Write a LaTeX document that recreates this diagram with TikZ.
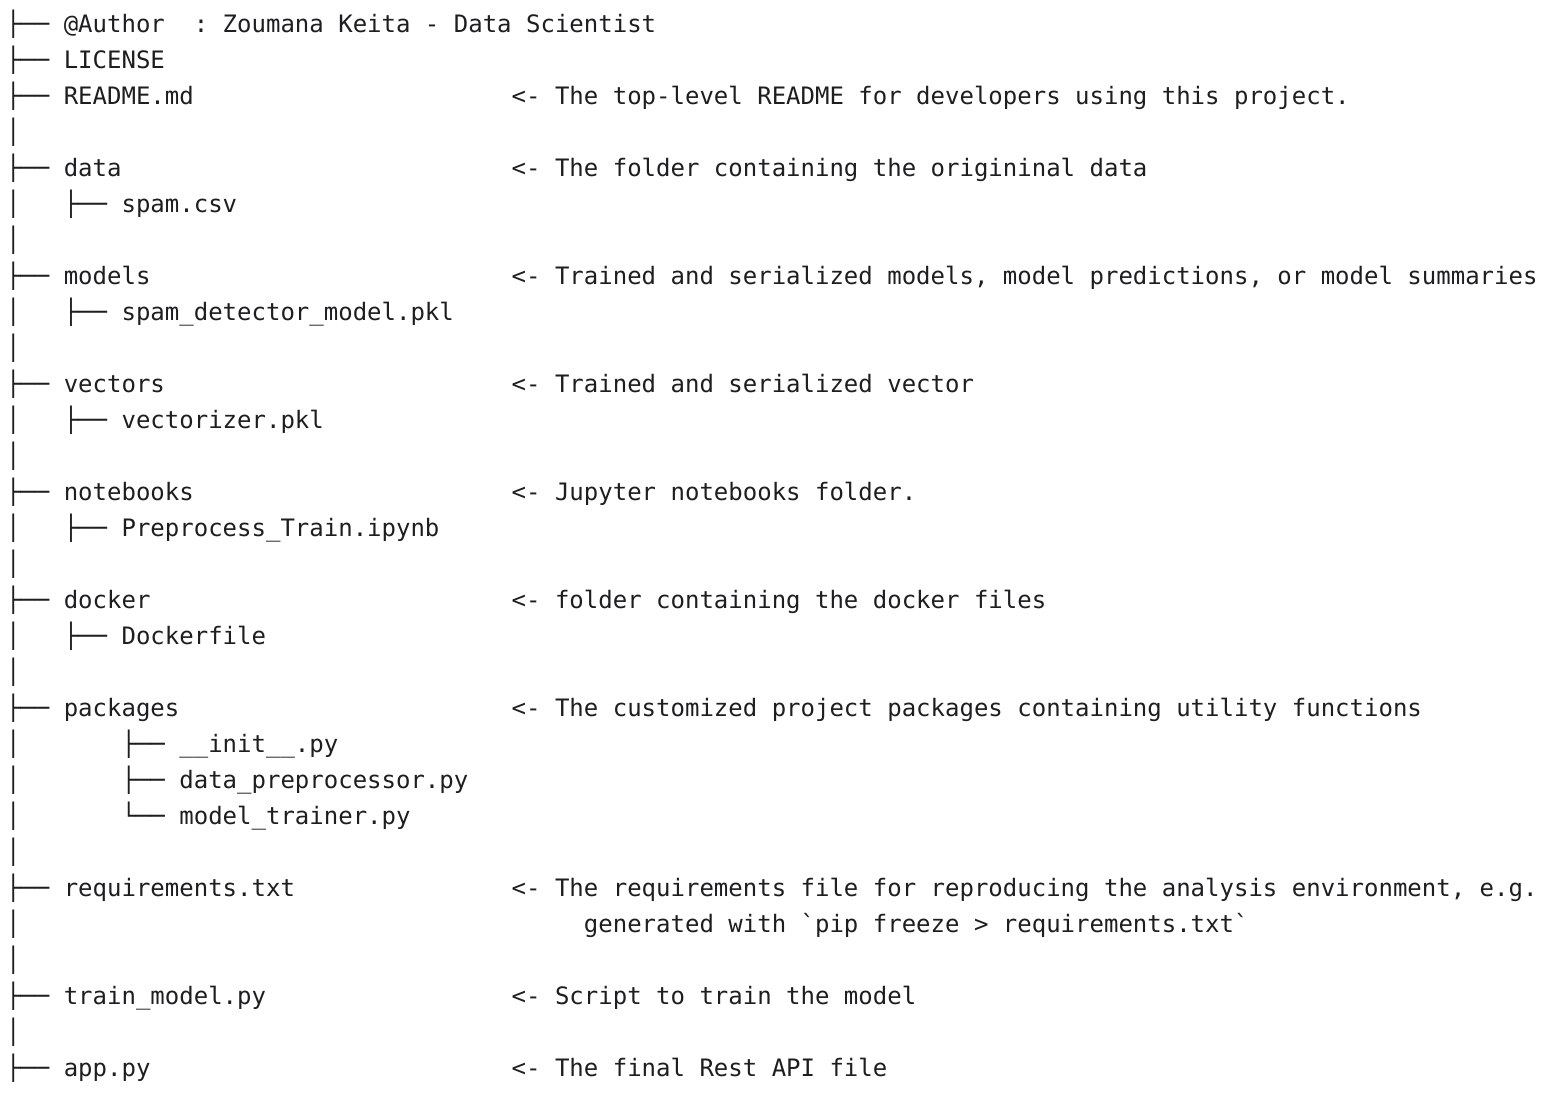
\documentclass[tikz,border=0pt]{standalone}
\usepackage{fontspec}
\newfontfamily\codefont{DejaVu Sans Mono}
\definecolor{ink}{RGB}{30,30,32}
\begin{document}
\begin{tikzpicture}[x=7.224pt,y=-18pt,
  txt/.style={anchor=base west,inner sep=0pt,outer sep=0pt,
    font=\codefont\fontsize{12pt}{18pt}\selectfont,text=ink}]
\useasboundingbox (0pt,0pt) rectangle (781pt,-552pt);
\begin{scope}[shift={(3pt,-16pt)}]
% row 0
\node[txt] (b0) at (0,0) {├──};
\node[txt] (n0) at (4,0) {@Author~~:~Zoumana Keita - Data Scientist};
% row 1
\node[txt] (b1) at (0,1) {├──};
\node[txt] (n1) at (4,1) {LICENSE};
% row 2
\node[txt] (b2) at (0,2) {├──};
\node[txt] (n2) at (4,2) {README.md};
\node[txt] (c2) at (35,2) {<- The top-level README for developers using this project.};
% row 3
\node[txt] (v3) at (0,3) {│};
% row 4
\node[txt] (b4) at (0,4) {├──};
\node[txt] (n4) at (4,4) {data};
\node[txt] (c4) at (35,4) {<- The folder containing the origininal data};
% row 5
\node[txt] (v5) at (0,5) {│};
\node[txt] (s5) at (4,5) {├──};
\node[txt] (n5) at (8,5) {spam.csv};
% row 6
\node[txt] (v6) at (0,6) {│};
% row 7
\node[txt] (b7) at (0,7) {├──};
\node[txt] (n7) at (4,7) {models};
\node[txt] (c7) at (35,7) {<- Trained and serialized models, model predictions, or model summaries};
% row 8
\node[txt] (v8) at (0,8) {│};
\node[txt] (s8) at (4,8) {├──};
\node[txt] (n8) at (8,8) {spam\_detector\_model.pkl};
% row 9
\node[txt] (v9) at (0,9) {│};
% row 10
\node[txt] (b10) at (0,10) {├──};
\node[txt] (n10) at (4,10) {vectors};
\node[txt] (c10) at (35,10) {<- Trained and serialized vector};
% row 11
\node[txt] (v11) at (0,11) {│};
\node[txt] (s11) at (4,11) {├──};
\node[txt] (n11) at (8,11) {vectorizer.pkl};
% row 12
\node[txt] (v12) at (0,12) {│};
% row 13
\node[txt] (b13) at (0,13) {├──};
\node[txt] (n13) at (4,13) {notebooks};
\node[txt] (c13) at (35,13) {<- Jupyter notebooks folder.};
% row 14
\node[txt] (v14) at (0,14) {│};
\node[txt] (s14) at (4,14) {├──};
\node[txt] (n14) at (8,14) {Preprocess\_Train.ipynb};
% row 15
\node[txt] (v15) at (0,15) {│};
% row 16
\node[txt] (b16) at (0,16) {├──};
\node[txt] (n16) at (4,16) {docker};
\node[txt] (c16) at (35,16) {<- folder containing the docker files};
% row 17
\node[txt] (v17) at (0,17) {│};
\node[txt] (s17) at (4,17) {├──};
\node[txt] (n17) at (8,17) {Dockerfile};
% row 18
\node[txt] (v18) at (0,18) {│};
% row 19
\node[txt] (b19) at (0,19) {├──};
\node[txt] (n19) at (4,19) {packages};
\node[txt] (c19) at (35,19) {<- The customized project packages containing utility functions};
% row 20
\node[txt] (v20) at (0,20) {│};
\node[txt] (s20) at (8,20) {├──};
\node[txt] (n20) at (12,20) {\_\_init\_\_.py};
% row 21
\node[txt] (v21) at (0,21) {│};
\node[txt] (s21) at (8,21) {├──};
\node[txt] (n21) at (12,21) {data\_preprocessor.py};
% row 22
\node[txt] (v22) at (0,22) {│};
\node[txt] (s22) at (8,22) {└──};
\node[txt] (n22) at (12,22) {model\_trainer.py};
% row 23
\node[txt] (v23) at (0,23) {│};
% row 24
\node[txt] (b24) at (0,24) {├──};
\node[txt] (n24) at (4,24) {requirements.txt};
\node[txt] (c24) at (35,24) {<- The requirements file for reproducing the analysis environment, e.g.};
% row 25
\node[txt] (v25) at (0,25) {│};
\node[txt] (c25) at (40,25) {generated with {\char96}pip freeze > requirements.txt{\char96}};
% row 26
\node[txt] (v26) at (0,26) {│};
% row 27
\node[txt] (b27) at (0,27) {├──};
\node[txt] (n27) at (4,27) {train\_model.py};
\node[txt] (c27) at (35,27) {<- Script to train the model};
% row 28
\node[txt] (v28) at (0,28) {│};
% row 29
\node[txt] (b29) at (0,29) {├──};
\node[txt] (n29) at (4,29) {app.py};
\node[txt] (c29) at (35,29) {<- The final Rest API file};
\end{scope}
\end{tikzpicture}
\end{document}
